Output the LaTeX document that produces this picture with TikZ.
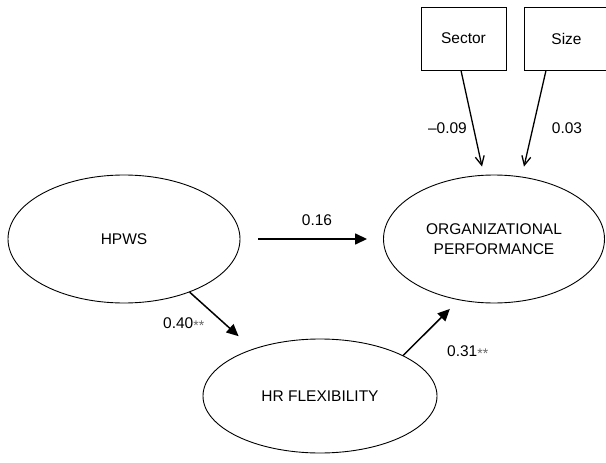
\documentclass[tikz,border=0pt]{standalone}
\usepackage{fontspec}
\setmainfont{Liberation Sans}
\usetikzlibrary{shapes.geometric,arrows.meta}

\newcommand{\sigstar}{\textcolor{black!60}{\raisebox{-2pt}{\fontsize{14}{14}\selectfont **}}}

\begin{document}
\begin{tikzpicture}[x=1pt,y=-1pt,
  latent/.style={draw=black,ellipse,line width=0.9pt,inner sep=0pt,align=center},
  manifest/.style={draw=black,rectangle,line width=0.9pt,minimum width=85pt,minimum height=63pt},
  effect/.style={line width=1.5pt,-{Triangle[length=12pt,width=11pt]}},
  ctrl/.style={line width=1.3pt,-{Straight Barb[length=9pt,width=9pt]}},
  coef/.style={inner sep=0pt}]
  \tikzstyle{every node}+=[font=\fontsize{15.5}{20}\selectfont]
  \useasboundingbox (0,0) rectangle (606,463);
  % latent constructs
  \node [latent,minimum width=232pt,minimum height=128pt] (hpws) at (124,239) {HPWS};
  \node [latent,minimum width=221pt,minimum height=128pt] (op) at (494,239) {ORGANIZATIONAL\\PERFORMANCE};
  \node [latent,minimum width=234pt,minimum height=114pt] (hrflex) at (320,396) {HR FLEXIBILITY};
  % controls
  \node [manifest] (sector) at (463.5,38.5) {Sector};
  \node [manifest] (size) at (566.5,38.5) {Size};
  % paths
  \draw [effect,shorten <=18pt,shorten >=16pt] (hpws.east) -- (op.west);
  \draw [effect,shorten >=19pt] (hpws.-39) -- (hrflex.145);
  \draw [effect,shorten >=12.5pt] (hrflex.26) -- (op.240);
  \draw [ctrl] ([xshift=-2.5pt]sector.south) -- ([shift={(-12,-8)}]op.north);
  \draw [ctrl] ([xshift=-20.5pt]size.south) -- ([shift={(30,-8)}]op.north);
  % coefficients
  \node [coef] (b1) at (317,220) {0.16};
  \node [coef,anchor=west] (b2) at (163,324) {0.40\sigstar};
  \node [coef,anchor=west] (b3) at (447,352) {0.31\sigstar};
  \node [coef,anchor=east] (c1) at (467,128) {\textendash0.09};
  \node [coef] (c2) at (567,128) {0.03};
\end{tikzpicture}
\end{document}
